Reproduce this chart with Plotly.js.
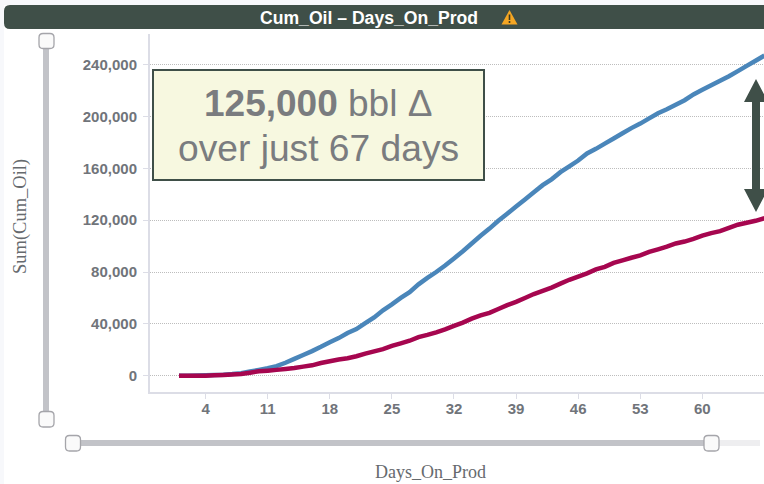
<!DOCTYPE html>
<html><head><meta charset="utf-8">
<script src="https://cdn.plot.ly/plotly-3.0.1.min.js"></script>
<style>html,body{margin:0;padding:0;background:#fff}#c{width:764px;height:484px}</style>
</head><body><div id="c"></div>
<script>
const days=[1,2,3,4,5,6,7,8,9,10,11,12,13,14,15,16,17,18,19,20,21,22,23,24,25,26,27,28,29,30,31,32,33,34,35,36,37,38,39,40,41,42,43,44,45,46,47,48,49,50,51,52,53,54,55,56,57,58,59,60,61,62,63,64,65,66,67];
const blueOil=[0,0,100,300,500,800,1300,2000,3200,4500,5800,7400,10000,13000,16000,19000,22300,25800,29000,33000,36000,40500,45000,50500,55000,60000,64500,70500,75500,80000,85000,90500,96000,102000,108000,113500,119500,125000,130500,136000,141500,147000,151500,157000,161500,166000,171500,175000,179000,183000,187000,191000,194500,198500,202500,205500,209000,212500,217000,220500,224000,227500,231000,235000,239000,243000,247000];
const redOil=[0,0,0,0,300,600,900,1300,2300,3400,3900,4500,5200,6000,7000,8000,9800,11200,12500,13500,15000,17000,18800,20500,23000,25000,27000,29800,31500,33500,35800,38500,41000,44000,46500,48500,51500,54500,57000,60000,63000,65500,68000,71000,74000,76500,79000,82000,84000,87000,89000,91000,92800,95500,97500,99500,102000,103500,105500,108000,110000,111500,114000,116500,118000,119500,121500];
const xTicks=[4,11,18,25,32,39,46,53,60];
const yTicks=[0,40000,80000,120000,160000,200000,240000];
const W=764,H=484,L=150,R=764,T=34,B=392;
const dark='#3f4f48';
const px=x=>(x-L)/(R-L), py=y=>(B-y)/(B-T);
const poly=pts=>'M'+pts.map(p=>px(p[0])+','+py(p[1])).join('L')+'Z';
const handle=(x0,y0,x1,y1)=>{const r=4;return 'M'+px(x0+r)+','+py(y0)+'L'+px(x1-r)+','+py(y0)+'Q'+px(x1)+','+py(y0)+' '+px(x1)+','+py(y0+r)+'L'+px(x1)+','+py(y1-r)+'Q'+px(x1)+','+py(y1)+' '+px(x1-r)+','+py(y1)+'L'+px(x0+r)+','+py(y1)+'Q'+px(x0)+','+py(y1)+' '+px(x0)+','+py(y1-r)+'L'+px(x0)+','+py(y0+r)+'Q'+px(x0)+','+py(y0)+' '+px(x0+r)+','+py(y0)+'Z';};
const rect=(x0,y0,x1,y1,fill,line,lw,layer)=>({type:'rect',xref:'paper',yref:'paper',x0:px(x0),x1:px(x1),y0:py(y0),y1:py(y1),fillcolor:fill,line:{color:line||fill,width:lw||0},layer:layer||'above'});
const path=(d,fill,line,lw)=>({type:'path',xref:'paper',yref:'paper',path:d,fillcolor:fill,line:{color:line||fill,width:lw||0},layer:'above'});
const shapes=[
 rect(0,0,764,5,'#f7f8fb'),rect(0,5,4,484,'#f7f8fb'),
 path('M'+px(764)+','+py(5)+'L'+px(10)+','+py(5)+'Q'+px(4)+','+py(5)+' '+px(4)+','+py(11)+'L'+px(4)+','+py(23)+'Q'+px(4)+','+py(29)+' '+px(10)+','+py(29)+'L'+px(764)+','+py(29)+'Z',dark),
 path(poly([[509.5,10],[517.5,24.5],[501.5,24.5]]),'#f5a623'),
 rect(508.7,14.5,510.3,20,'#3f3a20'),rect(508.7,21,510.3,23,'#3f3a20'),
 rect(43,40,49,420,'#c2c3c8'),
 rect(73,440,711,446,'#c2c3c8'),rect(711,440,760,446,'#eeeef0'),
 path(handle(39,33.5,54,48.5),'#fafafa','#a5a5aa',1.3),
 path(handle(39,411.5,54,427),'#fafafa','#a5a5aa',1.3),
 path(handle(65.5,435.5,80.5,451),'#fafafa','#a5a5aa',1.3),
 path(handle(704,435.5,719,451),'#fafafa','#a5a5aa',1.3),
 rect(153,70,484,180,'#f7f8e0',dark,2),
 path(poly([[756,79],[768,102],[760,102],[760,189],[768,189],[756,212],[744,189],[752,189],[752,102],[744,102]]),dark)
];
const ann=(x,y,text,size,family,color,extra)=>Object.assign({xref:'paper',yref:'paper',x:px(x),y:py(y),text:text,showarrow:false,xanchor:'center',yanchor:'middle',font:{size:size,family:family,color:color}},extra||{});
const sans='"Liberation Sans",Arial,sans-serif',serif='"Liberation Serif","Times New Roman",serif';
const annotations=[
 ann(369,17.5,'<b>Cum_Oil – Days_On_Prod</b>',17.6,sans,'#ffffff'),
 ann(318,103,'<b>125,000</b> bbl Δ',37,sans,'#7a7c7f'),
 ann(318,148,'over just 67 days',37.2,sans,'#7a7c7f'),
 ann(20,217,'Sum(Cum_Oil)',18.5,serif,'#666a6e',{textangle:-90}),
 ann(430,472,'Days_On_Prod',18,serif,'#666a6e')
];
const traces=[
 {x:days,y:blueOil,type:'scatter',mode:'lines',name:'Blue',line:{color:'#4a86ba',width:4.5,shape:'linear',simplify:false},hoverinfo:'skip'},
 {x:days,y:redOil,type:'scatter',mode:'lines',name:'Red',line:{color:'#a6064f',width:4.5,shape:'linear',simplify:false},hoverinfo:'skip'}
];
const tickFont={size:15,family:sans,color:'#70747a',weight:700};
const layout={width:W,height:H,margin:{l:L,r:W-R,t:T,b:H-B,pad:0},paper_bgcolor:'#fff',plot_bgcolor:'#fff',showlegend:false,
 xaxis:{range:[-2.27,66.95],tickmode:'array',tickvals:xTicks,ticks:'outside',ticklen:5,tickcolor:'#dcdde6',tickwidth:1,ticklabelstandoff:-3,showgrid:false,zeroline:false,showline:true,linecolor:'#dcdde6',linewidth:2,tickfont:tickFont},
 yaxis:{range:[-12560,263600],tickmode:'array',tickvals:yTicks,tickformat:',',ticks:'outside',ticklen:5,tickcolor:'#dcdde6',tickwidth:1,ticklabelstandoff:3,showgrid:true,gridcolor:'#bdbdbd',griddash:'1px,1px',gridwidth:1,zeroline:false,showline:true,linecolor:'#dcdde6',linewidth:2,tickfont:tickFont},
 shapes:shapes,annotations:annotations};
Plotly.newPlot('c',traces,layout,{displayModeBar:false,staticPlot:true});
</script></body></html>
